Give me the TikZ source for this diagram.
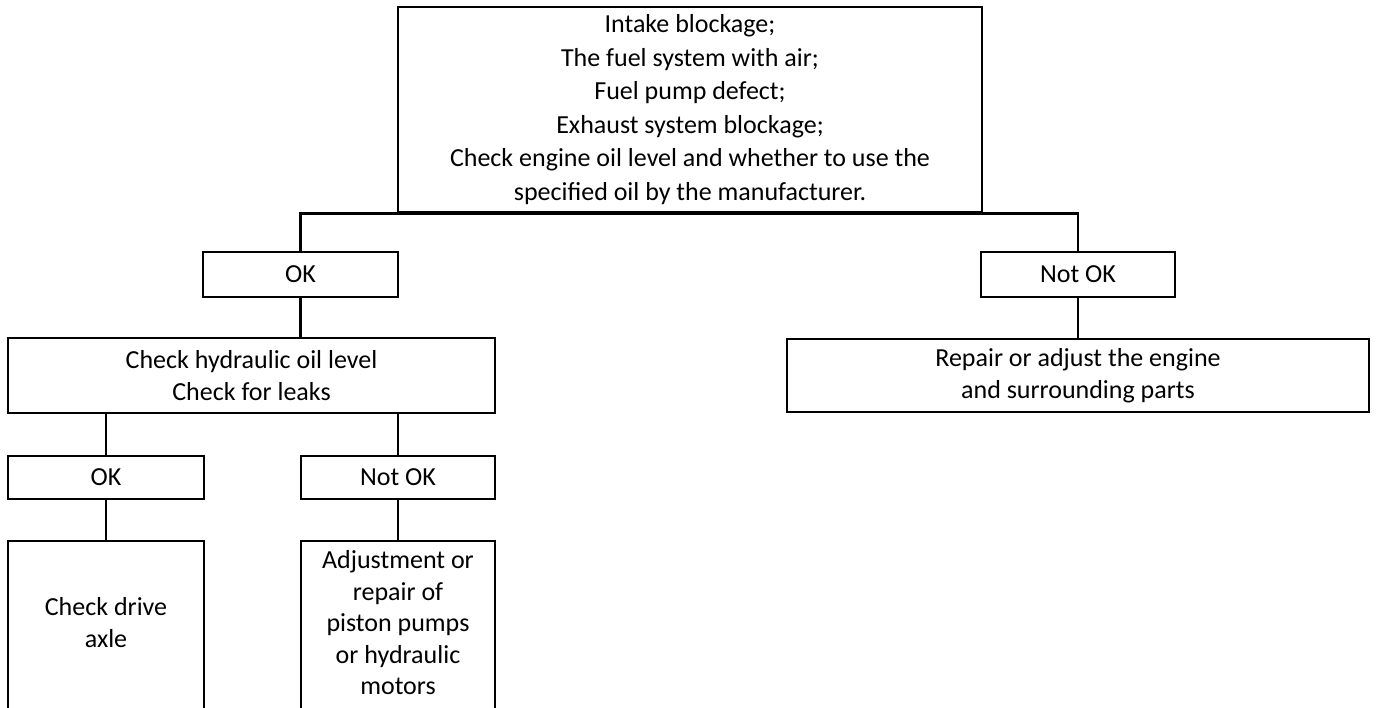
\documentclass[tikz,border=0pt]{standalone}
\usepackage{fontspec}
\setmainfont{Carlito}
\begin{document}
\begin{tikzpicture}[x=1pt,y=-1pt,
  box/.style={draw=black,line width=2.8pt,rectangle,inner sep=0pt,align=center,
    font=\fontsize{26}{31.5}\selectfont},
  conn/.style={draw=black,line width=2.8pt}]
\useasboundingbox (0,0) rectangle (1376,708);
\clip (0,0) rectangle (1376,708);
\fill[white] (0,0) rectangle (1376,708);

\node[box,minimum width=584pt,minimum height=205pt,font=\fontsize{26}{33.5}\selectfont] (top) at (690,109.5)
  {Intake blockage;\\The fuel system with air;\\Fuel pump defect;\\Exhaust system blockage;\\Check engine oil level and whether to use the\\specified oil by the manufacturer.};

\node[box,minimum width=195pt,minimum height=45pt] (ok1) at (300.5,274.5) {OK};
\node[box,minimum width=194pt,minimum height=45pt] (nok1) at (1078,274.5) {Not OK};

\node[box,minimum width=487pt,minimum height=75pt] (hyd) at (251.5,375.5)
  {Check hydraulic oil level\\Check for leaks};
\node[box,minimum width=582pt,minimum height=73pt] (rep) at (1078,375.5)
  {Repair or adjust the engine\\and surrounding parts};

\node[box,minimum width=196pt,minimum height=43pt] (ok2) at (106,477.5) {OK};
\node[box,minimum width=194pt,minimum height=43pt] (nok2) at (398,477.5) {Not OK};

\node[box,minimum width=196pt,minimum height=171pt] (axle) at (106,626.5)
  {Check drive\\axle\rule[-8pt]{0pt}{8pt}};
\node[box,minimum width=194pt,minimum height=171pt] (adj) at (398,626.5)
  {Adjustment or\\repair of\\piston pumps\\or hydraulic\\motors\rule[-8pt]{0pt}{8pt}};

\draw[conn] (ok1.north) |- (top.south) -| (nok1.north);
\draw[conn] (ok1.south) -- (ok1.south |- hyd.north);
\draw[conn] (nok1.south) -- (rep.north);
\draw[conn] (ok2.north |- hyd.south) -- (ok2.north);
\draw[conn] (nok2.north |- hyd.south) -- (nok2.north);
\draw[conn] (ok2.south) -- (axle.north);
\draw[conn] (nok2.south) -- (adj.north);
\end{tikzpicture}
\end{document}
